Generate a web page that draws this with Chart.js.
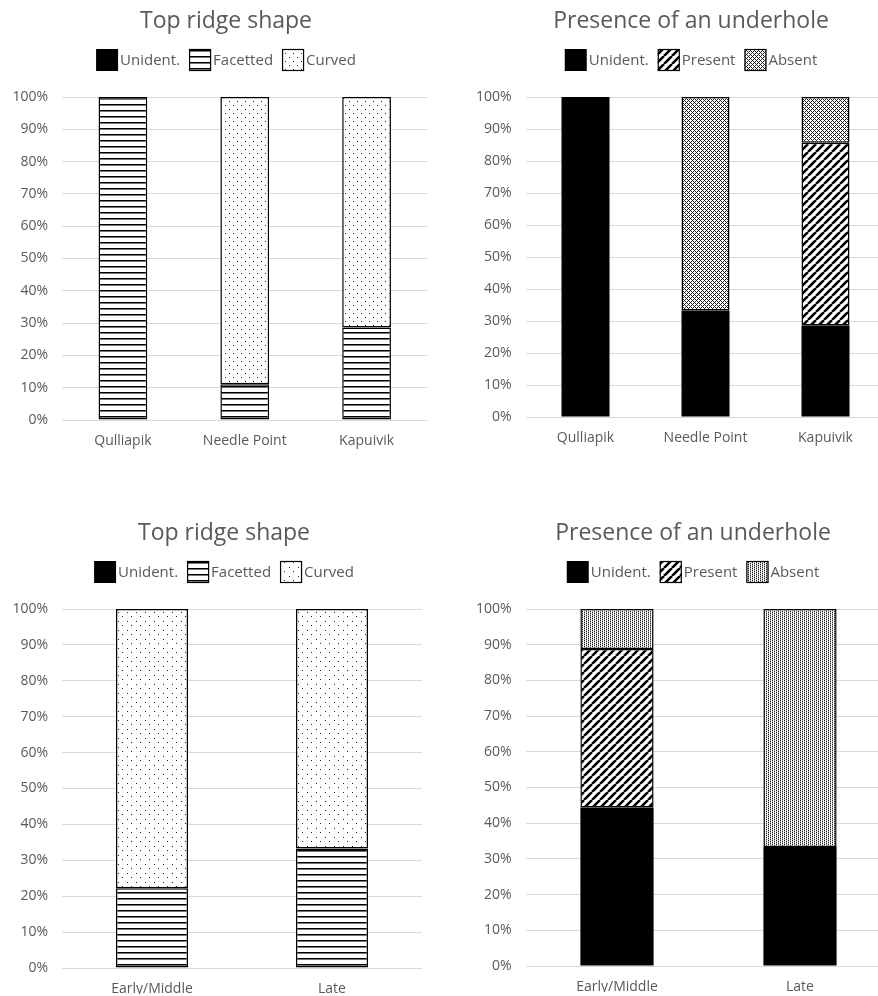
<!DOCTYPE html>
<html lang="en">
<head>
  <meta charset="UTF-8" />
  <title>Top ridge shape / Presence of an underhole</title>
  <script src="https://cdn.jsdelivr.net/npm/chart.js"></script>
  <style>
    body {
      margin: 0;
      background: #ffffff;
      overflow: hidden;
      width: 878px;
      height: 996px;
      position: relative;
    }
    canvas { position: absolute; }
  </style>
</head>
<body>

  <canvas id="ridgeSites" width="452" height="470" style="left:0;top:0"></canvas>
  <canvas id="holeSites" width="502" height="470" style="left:440px;top:0"></canvas>
  <canvas id="ridgePeriods" width="448" height="484" style="left:0;top:512px"></canvas>
  <canvas id="holePeriods" width="506" height="484" style="left:440px;top:512px"></canvas>

  <script>
    // categories
    const sites = ['Qulliapik', 'Needle Point', 'Kapuivik'];
    const periods = ['Early/Middle', 'Late'];

    // Top ridge shape, by site (%)
    const ridgeSiteUnident = [0, 0, 0];
    const ridgeSiteFacetted = [100, 11.1, 28.6];
    const ridgeSiteCurved = [0, 88.9, 71.4];

    // Presence of an underhole, by site (%)
    const holeSiteUnident = [100, 33.3, 28.6];
    const holeSitePresent = [0, 0, 57.1];
    const holeSiteAbsent = [0, 66.7, 14.3];

    // Top ridge shape, by period (%)
    const ridgePeriodUnident = [0, 0];
    const ridgePeriodFacetted = [22.2, 33.3];
    const ridgePeriodCurved = [77.8, 66.7];

    // Presence of an underhole, by period (%)
    const holePeriodUnident = [44.4, 33.3];
    const holePeriodPresent = [44.4, 0];
    const holePeriodAbsent = [11.2, 66.7];

    const grey = '#595959';
    Chart.defaults.font.family = '"Open Sans", sans-serif';
    Chart.defaults.color = grey;

    // small tiles used as bar fills
    function makePattern(w, h, draw) {
      const c = document.createElement('canvas');
      c.width = w;
      c.height = h;
      const g = c.getContext('2d');
      g.fillStyle = '#ffffff';
      g.fillRect(0, 0, w, h);
      draw(g);
      return g.createPattern(c, 'repeat');
    }

    const solid = '#000000';
    const hLines = makePattern(6, 6, g => {
      g.fillStyle = '#000';
      g.fillRect(0, 2, 6, 1);
      g.fillStyle = '#777';
      g.fillRect(0, 3, 6, 1);
    });
    function dots(step) {
      return makePattern(step, step, g => {
        g.fillStyle = '#222';
        g.fillRect(1, 1, 1, 1);
        g.fillRect(1 + Math.floor(step / 2), 1 + Math.floor(step / 2), 1, 1);
      });
    }
    const diagonal = makePattern(8, 8, g => {
      g.strokeStyle = '#000';
      g.lineWidth = 2.6;
      [-8, 0, 8].forEach(k => {
        g.beginPath();
        g.moveTo(k, 8);
        g.lineTo(k + 8, 0);
        g.stroke();
      });
    });
    const crossHatch = makePattern(4, 4, g => {
      g.fillStyle = '#222';
      [[0, 0], [1, 1], [2, 2], [3, 3], [1, 3], [3, 1]].forEach(p => g.fillRect(p[0], p[1], 1, 1));
    });
    const fineDots = makePattern(4, 2, g => {
      g.fillStyle = '#222';
      g.fillRect(0, 0, 1, 1);
      g.fillRect(2, 1, 1, 1);
      g.fillStyle = '#aaa';
      g.fillRect(2, 0, 1, 1);
      g.fillRect(0, 1, 1, 1);
    });

    // title and one-row legend, both centred on the whole canvas
    const header = {
      id: 'header',
      afterDraw(chart, args, opts) {
        const ctx = chart.ctx;
        const cx = chart.width / 2;
        ctx.save();
        ctx.fillStyle = grey;
        ctx.textAlign = 'center';
        ctx.textBaseline = 'alphabetic';
        ctx.font = '23px "Open Sans", sans-serif';
        ctx.fillText(opts.title, cx, 28);

        ctx.font = '15px "Open Sans", sans-serif';
        const box = 22, gap = 2, space = 9;
        const items = chart.data.datasets.map(ds => ({
          text: ds.label,
          fill: ds.backgroundColor,
          w: ctx.measureText(ds.label).width
        }));
        const total = items.reduce((s, it) => s + box + gap + it.w, 0) + space * (items.length - 1);
        let x = cx - total / 2;
        const y = 60;
        items.forEach(it => {
          ctx.fillStyle = it.fill;
          ctx.fillRect(x, y - box / 2, box, box);
          if (it.fill !== solid) {
            ctx.strokeStyle = '#000';
            ctx.lineWidth = 1.2;
            ctx.strokeRect(x + 0.5, y - box / 2 + 0.5, box - 1, box - 1);
          }
          ctx.fillStyle = grey;
          ctx.textAlign = 'left';
          ctx.textBaseline = 'middle';
          ctx.fillText(it.text, x + box + gap, y + 1);
          x += box + gap + it.w + space;
        });
        ctx.restore();
      }
    };

    function dataset(label, data, fill) {
      return {
        label: label,
        data: data,
        backgroundColor: fill,
        borderColor: '#000',
        borderWidth: fill === solid ? 0 : 1.5,
        borderSkipped: false,
        barPercentage: 0.4,
        categoryPercentage: 1
      };
    }

    function makeChart(id, title, labels, datasets, box) {
      new Chart(document.getElementById(id), {
        type: 'bar',
        data: { labels: labels, datasets: datasets },
        plugins: [header],
        options: {
          responsive: false,
          animation: false,
          layout: { padding: { left: 0, right: box.right, top: 97, bottom: box.bottom } },
          plugins: {
            legend: { display: false },
            tooltip: { enabled: false },
            title: { display: false },
            header: { title: title }
          },
          scales: {
            x: {
              stacked: true,
              grid: { display: false },
              border: { display: false },
              ticks: { color: grey, font: { size: 14 }, padding: 5 },
              afterFit: s => { s.height = box.xHeight; }
            },
            y: {
              stacked: true,
              min: 0,
              max: 100,
              grid: { color: '#d9d9d9', lineWidth: 1, drawTicks: false },
              border: { display: false },
              ticks: { stepSize: 10, color: grey, font: { size: 14 }, padding: 14, callback: v => v + '%' },
              afterFit: s => { s.width = box.yWidth; }
            }
          }
        }
      });
    }

    makeChart('ridgeSites', 'Top ridge shape', sites, [
      dataset('Unident.', ridgeSiteUnident, solid),
      dataset('Facetted', ridgeSiteFacetted, hLines),
      dataset('Curved', ridgeSiteCurved, dots(8))
    ], { yWidth: 62, right: 24.5, bottom: 10, xHeight: 40 });

    makeChart('holeSites', 'Presence of an underhole', sites, [
      dataset('Unident.', holeSiteUnident, solid),
      dataset('Present', holeSitePresent, diagonal),
      dataset('Absent', holeSiteAbsent, crossHatch)
    ], { yWidth: 85.5, right: 56.5, bottom: 13, xHeight: 40 });

    makeChart('ridgePeriods', 'Top ridge shape', periods, [
      dataset('Unident.', ridgePeriodUnident, solid),
      dataset('Facetted', ridgePeriodFacetted, hLines),
      dataset('Curved', ridgePeriodCurved, dots(9))
    ], { yWidth: 62, right: 26, bottom: 2, xHeight: 26 });

    makeChart('holePeriods', 'Presence of an underhole', periods, [
      dataset('Unident.', holePeriodUnident, solid),
      dataset('Present', holePeriodPresent, diagonal),
      dataset('Absent', holePeriodAbsent, fineDots)
    ], { yWidth: 85.5, right: 54.5, bottom: 4, xHeight: 26 });
  </script>

</body>
</html>
